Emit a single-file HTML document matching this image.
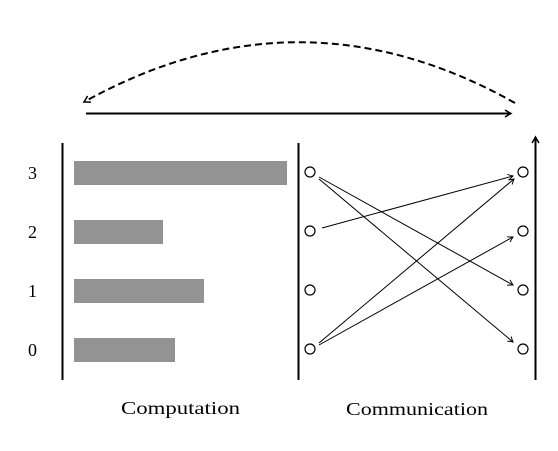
<!DOCTYPE html>
<html><head><style>body{margin:0;background:#fff}</style></head><body>
<svg width="558" height="446" xmlns="http://www.w3.org/2000/svg" font-family="Liberation Serif, serif">
<defs>
<marker id="a" markerWidth="10" markerHeight="10" refX="6" refY="4" orient="auto" markerUnits="userSpaceOnUse">
<path d="M1,1 Q4,3 6,4 Q4,5 1,7" fill="none" stroke="#000" stroke-width="1"/></marker>
<marker id="b" markerWidth="12" markerHeight="12" refX="7" refY="5" orient="auto" markerUnits="userSpaceOnUse">
<path d="M1,1.5 Q5,4 7,5 Q5,6 1,8.5" fill="none" stroke="#000" stroke-width="1.5"/></marker>
</defs>
<path d="M515,103 Q300,-18 84,102" fill="none" stroke="#000" stroke-width="2" stroke-dasharray="7,4" marker-end="url(#b)"/>
<line x1="86" y1="113.5" x2="511" y2="113.5" stroke="#000" stroke-width="2" marker-end="url(#b)"/>
<line x1="62.5" y1="143" x2="62.5" y2="380" stroke="#000" stroke-width="2"/>
<line x1="298.5" y1="143" x2="298.5" y2="380" stroke="#000" stroke-width="2"/>
<line x1="535.5" y1="380" x2="535.5" y2="137" stroke="#000" stroke-width="2" marker-end="url(#b)"/>
<g fill="#939393">
<rect x="74" y="161" width="213" height="24"/>
<rect x="74" y="220" width="89" height="24"/>
<rect x="74" y="279" width="130" height="24"/>
<rect x="74" y="338" width="101" height="24"/>
</g>
<g font-size="18">
<text x="28" y="179">3</text><text x="28" y="238">2</text><text x="28" y="297">1</text><text x="28" y="356">0</text>
<text x="121" y="414" textLength="119" lengthAdjust="spacingAndGlyphs">Computation</text>
<text x="346" y="415" textLength="142" lengthAdjust="spacingAndGlyphs">Communication</text>
</g>
<g fill="none" stroke="#000" stroke-width="1.2">
<circle cx="310" cy="172" r="5"/><circle cx="310" cy="231" r="5"/><circle cx="310" cy="290" r="5"/><circle cx="310" cy="349" r="5"/>
<circle cx="523" cy="172" r="5"/><circle cx="523" cy="231" r="5"/><circle cx="523" cy="290" r="5"/><circle cx="523" cy="349" r="5"/>
</g>
<g stroke="#000" stroke-width="1" marker-end="url(#a)">
<line x1="319" y1="177" x2="513" y2="285"/>
<line x1="319" y1="179" x2="513" y2="342"/>
<line x1="322" y1="228" x2="513" y2="176"/>
<line x1="319" y1="343" x2="514" y2="179"/>
<line x1="319" y1="345" x2="513" y2="237"/>
</g>
</svg>
</body></html>
